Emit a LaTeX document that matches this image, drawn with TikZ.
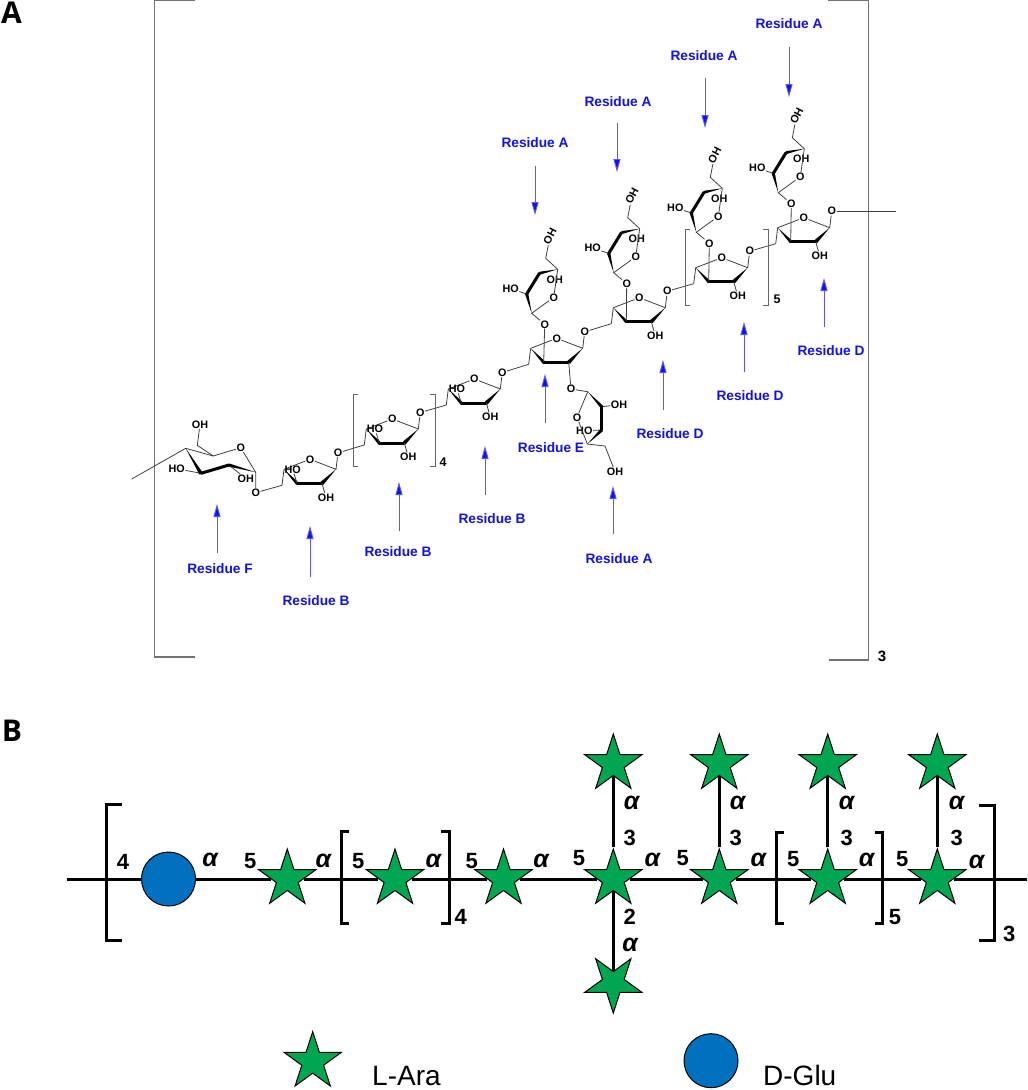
\documentclass[tikz,border=0pt]{standalone}
\usepackage{fontspec}
\setmainfont{Liberation Sans}
\newfontfamily\labelfont{Open Sans}
\usepackage{tikz}
\usetikzlibrary{arrows.meta, shapes.geometric}
\definecolor{araGreen}{HTML}{00A651}
\definecolor{gluBlue}{HTML}{0070BF}
\definecolor{resBlue}{HTML}{1010F0}
\tikzset{
  bond/.style={draw=black!75, line width=0.8pt},
  atom/.style={inner sep=0.4pt, font=\bfseries\fontsize{10.8}{11}\selectfont},
  wedge/.style={fill=black},
  boldbond/.style={line width=3pt, line cap=round},
  residue/.style={text=resBlue, font=\bfseries\fontsize{13.7}{15}\selectfont},
  resarrow/.style={draw=resBlue!70, line width=0.9pt, -{Triangle[length=13pt,width=7pt,fill=resBlue]}},
  repeatL/.style={draw=black!60, line width=1pt},
  outerL/.style={draw=black!55, line width=1.3pt},
  chain/.style={line width=3pt},
  arastar/.style={star, star points=5, star point ratio=2.618, minimum size=60pt, inner sep=0pt, draw=black, line width=1pt, fill=araGreen},
  gluc/.style={circle, minimum size=54pt, inner sep=0pt, draw=black, line width=1pt, fill=gluBlue},
  linknum/.style={font=\bfseries\fontsize{22}{24}\selectfont},
  linkalpha/.style={font=\bfseries\itshape\fontsize{25}{26}\selectfont},
  panel/.style={font=\labelfont\bfseries\fontsize{30}{32}\selectfont}
}
% five-membered ring, #1 name, (#2,#3) ring oxygen
\newcommand{\furRing}[3]{
  \begin{scope}[shift={(#2,#3)}]
    \node[atom] (#1o) at (0,0) {O};
    \coordinate (#1c1) at (26,10);
    \coordinate (#1c2) at (12,24);
    \coordinate (#1c3) at (-13,24);
    \coordinate (#1c4) at (-26,10);
    \coordinate (#1c5) at (-28,26);
    \node[atom] (#1l) at (28,-6.5) {O};
    \draw[bond] (#1c4) -- (#1o) -- (#1c1) -- (#1l);
    \draw[bond] (#1c4) -- (#1c5);
    \fill[wedge] (-26,10) -- (-12.2,22.5) -- (-13.8,25.5) -- cycle;
    \fill[wedge] (26,10) -- (13.3,25.5) -- (10.7,22.5) -- cycle;
    \draw[boldbond] (#1c3) -- (#1c2);
  \end{scope}
}
% side chain ring, #1 name, (#2,#3) ring oxygen
\newcommand{\sideRing}[3]{
  \begin{scope}[shift={(#2,#3)}]
    \node[atom] (#1o) at (0,0) {O};
    \coordinate (#1c1) at (-22,16);
    \coordinate (#1c2) at (-27,-3.3);
    \coordinate (#1c3) at (-14.3,-24);
    \coordinate (#1c4) at (4,-28);
    \coordinate (#1c5) at (-8,-39);
    \node[atom] (#1l) at (-9,27) {O};
    \node[atom, rotate=62] (#1t) at (-3.7,-61) {OH};
    \node[atom] (#1h) at (-43,-8.7) {HO};
    \node[atom] (#1i) at (1,-18) {OH};
    \draw[bond] (#1c4) -- (#1o) -- (#1c1) -- (#1l);
    \draw[bond] (#1c4) -- (#1c5) -- (#1t);
    \draw[bond] (#1c2) -- (#1h);
    \fill[wedge] (-22,16) -- (-28.6,-3) -- (-25.4,-3.6) -- cycle;
    \fill[wedge] (4,-28) -- (-14,-25.6) -- (-14.6,-22.4) -- cycle;
    \draw[boldbond] (#1c2) -- (#1c3);
  \end{scope}
}
\begin{document}
\begin{tikzpicture}[x=1pt,y=-1pt]
  \useasboundingbox (0,0) rectangle (1028,1090);

  % Panel letters
  \node[panel] (panelA) at (11.5,13) {A};
  \node[panel] (panelB) at (12,731) {B};

  % Outer repeat brackets
  \draw[outerL] (195,0.5) -- (154.5,0.5) -- (154.5,657) -- (195,657);
  \draw[outerL] (828,0.5) -- (868.7,0.5) -- (868.7,660) -- (829,660);
  \node[atom, font=\bfseries\fontsize{15}{16}\selectfont] (outerNum) at (882,656) {3};

  % Residue F
  \node[atom] (fo) at (240.7,447.7) {O};
  \coordinate (fc1) at (255.7,472.3);
  \coordinate (fc2) at (229,465);
  \coordinate (fc3) at (201,473.3);
  \coordinate (fc4) at (185.7,448.3);
  \coordinate (fc5) at (213.3,456);
  \coordinate (fc6) at (197.3,445.3);
  \coordinate (fend) at (131.7,479);
  \node[atom] (ft) at (200,424.7) {OH};
  \node[atom] (fh) at (176.7,468.7) {HO};
  \node[atom] (fi) at (245.7,478.7) {OH};
  \node[atom] (fl) at (255.7,492.7) {O};
  \draw[bond] (fend) -- (fc4) -- (fc5) -- (fo) -- (fc1) -- (fl);
  \draw[bond] (fc5) -- (fc6) -- (ft);
  \draw[bond] (fc3) -- (fh);
  \draw[bond] (fc2) -- (fi);
  \fill[wedge] (185.7,448.3) -- (202.6,472.5) -- (199.4,474.5) -- cycle;
  \fill[wedge] (255.7,472.3) -- (229.5,463.5) -- (228.5,466.5) -- cycle;
  \draw[boldbond] (fc3) -- (fc2);

  % Main chain rings
  \furRing{ba}{310}{459.3}
  \furRing{bb}{392.3}{419}
  \furRing{bc}{474.3}{379}
  \furRing{ee}{556.7}{338.3}
  \furRing{da}{639.3}{297.7}
  \furRing{db}{721.7}{257.7}
  \furRing{dc}{803.7}{217.7}
  \foreach \r/\x/\y in {ba/292.7/469.3, bb/375/429, bc/457/389} {
    \node[atom] (\r n) at (\x,\y) {HO};
    \draw[bond] (\r c3) -- (\r n);
  }
  \foreach \r/\x/\y in {ba/326/497.3, bb/408.3/457, bc/490.3/417, da/655.3/335.7, db/737.7/295.7, dc/819.7/255.7} {
    \node[atom] (\r h) at (\x,\y) {OH};
    \draw[bond] (\r c2) -- (\r h);
  }
  \draw[bond] (bac5) -- (fl);
  \draw[bond] (bbc5) -- (bal);
  \draw[bond] (bcc5) -- (bbl);
  \draw[bond] (eec5) -- (bcl);
  \draw[bond] (dac5) -- (eel);
  \draw[bond] (dbc5) -- (dal);
  \draw[bond] (dcc5) -- (dbl);
  \coordinate (rend) at (896,211.2);
  \draw[bond] (dcl) -- (rend);

  % Side chain rings
  \sideRing{sa}{553.7}{297.3}
  \sideRing{sb}{635.7}{256.7}
  \sideRing{sc}{718.3}{216.3}
  \sideRing{sd}{800.3}{176.7}
  \draw[bond] (eec3) -- (sal);
  \draw[bond] (dac3) -- (sbl);
  \draw[bond] (dbc3) -- (scl);
  \draw[bond] (dcc3) -- (sdl);

  % Lower side chain
  \node[atom] (lowl) at (571,389) {O};
  \node[atom] (lowo) at (577,417.3) {O};
  \coordinate (lowc1) at (587.7,391.7);
  \coordinate (lowc2) at (601.7,406.7);
  \coordinate (lowc3) at (601.7,430);
  \coordinate (lowc4) at (587.3,444);
  \coordinate (lowc5) at (605,446);
  \node[atom] (lowi) at (619,404.7) {OH};
  \node[atom] (lowh) at (584.3,430.7) {HO};
  \node[atom] (lowt) at (615,471.7) {OH};
  \draw[bond] (eec2) -- (lowl) -- (lowc1) -- (lowo) -- (lowc4) -- (lowc5) -- (lowt);
  \draw[bond] (lowc2) -- (lowi);
  \draw[bond] (lowc3) -- (lowh);
  \fill[wedge] (587.7,391.7) -- (602.9,405.6) -- (600.5,407.8) -- cycle;
  \fill[wedge] (587.3,444) -- (603.1,431) -- (600.5,429) -- cycle;
  \draw[boldbond] (lowc2) -- (lowc3);

  % Inner repeat brackets
  \draw[repeatL] (358,394) -- (353.5,394) -- (353.5,466) -- (358,466);
  \draw[repeatL] (430,394) -- (435,394) -- (435,466) -- (430,466);
  \node[atom, font=\bfseries\fontsize{12.5}{13}\selectfont] (numB) at (443,462) {4};
  \draw[repeatL] (690,229) -- (685,229) -- (685,305) -- (690,305);
  \draw[repeatL] (763,229) -- (768,229) -- (768,305) -- (763,305);
  \node[atom, font=\bfseries\fontsize{12.5}{13}\selectfont] (numD) at (777,299) {5};

  % Residue labels and arrows
  \foreach \i/\t/\lx/\ly/\ax/\ya/\yb in {
    1/F/220/569/217/553/504, 2/B/316/601/310/577/526, 3/B/398/552/399/531/482,
    4/B/492/519/485/495/446, 5/E/551/448/545/423/374, 6/A/619/559/613/534/486,
    7/D/670/434/663/410/360, 8/D/750/396/744/372/322, 9/D/831/351/824/327/278,
    10/A/535/143/535/166/215, 11/A/618/102/617/123/172, 12/A/704/56/705/78/128,
    13/A/789/24/789/47/97} {
    \node[residue] (res\i) at (\lx,\ly) {Residue \t};
    \coordinate (tail\i) at (\ax,\ya);
    \coordinate (tip\i) at (\ax,\yb);
    \draw[resarrow] (tail\i) -- (tip\i);
  }

  % Panel B
  \coordinate (chainL) at (67,879);
  \coordinate (chainR) at (1027,879);
  \node[gluc] (glc) at (168.5,879) {};
  \foreach \n/\x in {1/287.3, 2/395, 3/503.5, 4/613.3, 5/719.3, 6/827.7, 7/937.3}
    \node[arastar] (m\n) at (\x,879) {};
  \foreach \n/\x/\m in {1/613.3/4, 2/719.3/5, 3/827.7/6, 4/937.3/7} {
    \node[arastar] (t\n) at (\x,764) {};
    \draw[chain] (m\m) -- (t\n);
  }
  \node[arastar, shape border rotate=180] (low) at (613.3,983) {};
  \draw[chain] (m4) -- (low);
  \draw[chain] (chainL) -- (glc);
  \draw[chain] (glc) -- (m1);
  \foreach \a/\b in {1/2, 2/3, 3/4, 4/5, 5/6, 6/7}
    \draw[chain] (m\a) -- (m\b);
  \draw[chain] (m7) -- (chainR);

  % Panel B brackets
  \draw[chain] (122,804) -- (106.5,804) -- (106.5,940) -- (122,940);
  \draw[chain] (349,831) -- (341.7,831) -- (341.7,923.3) -- (349,923.3);
  \draw[chain] (441,831) -- (449.3,831) -- (449.3,923.3) -- (441,923.3);
  \draw[chain] (784,832) -- (776.7,832) -- (776.7,923.3) -- (784,923.3);
  \draw[chain] (875,832) -- (882.7,832) -- (882.7,923.3) -- (875,923.3);
  \draw[chain] (979,805) -- (994,805) -- (994,940) -- (979,940);

  % Panel B numbers
  \foreach \n/\t/\x/\y in {
    a/4/123/861.7, b/5/250.3/861, c/5/358.3/861, d/5/471.7/861, e/5/579/858.3,
    f/5/682.7/858, g/5/793.3/859.3, h/5/902.3/859.3, i/3/629.7/837.7, j/3/735.7/837.7,
    k/3/846.7/837.7, l/3/956.7/837.7, m/2/629.7/917.3, n/4/460.7/916.7, o/5/895/917.3,
    p/3/1009.3/934}
    \node[linknum] (num\n) at (\x,\y) {\t};
  \foreach \n/\x/\y in {
    a/210/860, b/323.3/860.7, c/433.3/860.7, d/541/860.7, e/652.3/860, f/758.3/860,
    g/866.7/860, h/976.7/861.7, i/631.7/803.3, j/737.7/803.3, k/846.7/803.3,
    l/956.7/803.3, m/630/945}
    \node[linkalpha] (alpha\n) at (\x,\y) {α};

  % Legend
  \node[arastar] (keyAra) at (312.7,1061.7) {};
  \node[gluc] (keyGlu) at (711,1060.7) {};
  \node[anchor=base west, inner sep=0pt, font=\fontsize{28}{30}\selectfont] (araText) at (372,1085.7) {L-Ara};
  \node[anchor=base west, inner sep=0pt, font=\fontsize{28}{30}\selectfont] (gluText) at (763,1085.7) {D-Glu};
\end{tikzpicture}
\end{document}
